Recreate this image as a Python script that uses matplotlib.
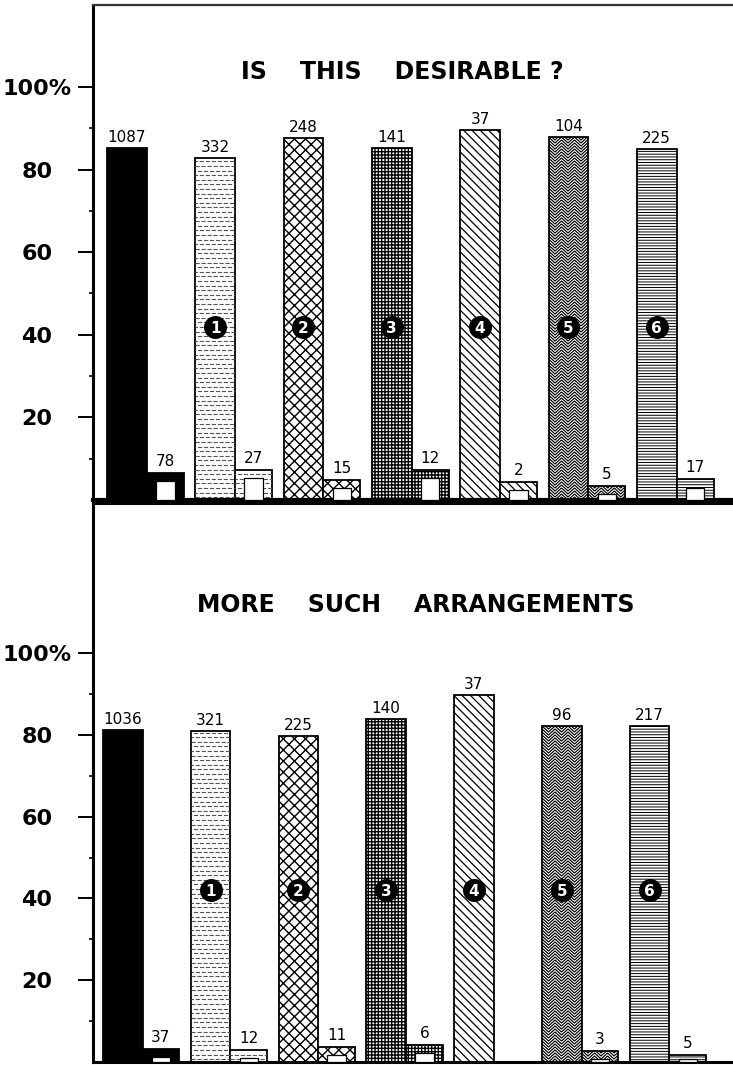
import numpy as np
import matplotlib
matplotlib.use('Agg')
import matplotlib.pyplot as plt
from matplotlib.collections import LineCollection

# ---------------- data ----------------
groups = ['All', '1', '2', '3', '4', '5', '6']
group_marks = ['', '1', '2', '3', '4', '5', '6']
patterns = ['solid', 'dash', 'cross', 'grid', 'diag', 'zigzag', 'hlines']

top_title = 'IS    THIS    DESIRABLE ?'
top_yes_pct = [85.2, 82.8, 87.7, 85.2, 89.6, 87.9, 85.0]
top_yes_n = [1087, 332, 248, 141, 37, 104, 225]
top_no_pct = [6.5, 7.3, 4.8, 7.3, 4.4, 3.4, 5.0]
top_no_n = [78, 27, 15, 12, 2, 5, 17]

bot_title = 'MORE    SUCH    ARRANGEMENTS'
bot_yes_pct = [81.2, 80.9, 79.7, 83.9, 89.7, 82.2, 82.2]
bot_yes_n = [1036, 321, 225, 140, 37, 96, 217]
bot_no_pct = [3.2, 2.9, 3.7, 4.2, 0.0, 2.7, 1.7]
bot_no_n = [37, 12, 11, 6, None, 3, 5]

ytick_vals = [20, 40, 60, 80, 100]
ytick_labels = ['20', '40', '60', '80', '100%']
yminor_vals = [10, 30, 50, 70, 90]

# ---------------- style ----------------
W, H, DPI = 7.33, 10.65, 100
BIG_W = 0.45
SMALL_W = 0.42
hatch_map = {'cross': 'xxx', 'grid': '+++++', 'diag': '\\\\\\\\', 'hlines': '------'}
hatch_lw = {'cross': 1.0, 'grid': 1.0, 'diag': 0.9, 'hlines': 0.7}

fig = plt.figure(figsize=(W, H), dpi=DPI)
fig.patch.set_facecolor('white')


def px_scale(ax):
    t = ax.transData
    p0 = t.transform((0, 0))
    p1 = t.transform((1, 1))
    return p1[0] - p0[0], p1[1] - p0[1]


def apply_pattern(ax, patch, pattern):
    x0, w, h = patch.get_x(), patch.get_width(), patch.get_height()
    if h <= 0:
        return
    sx, sy = px_scale(ax)
    if pattern == 'solid':
        patch.set_facecolor('black')
    elif pattern in hatch_map:
        patch.set_hatch(hatch_map[pattern])
        if hasattr(patch, 'set_hatch_linewidth'):
            patch.set_hatch_linewidth(hatch_lw[pattern])
    elif pattern == 'dash':
        step = 4.6 / sy
        ys = np.arange(step * 0.6, h, step)
        for k, y in enumerate(ys):
            ln, = ax.plot([x0, x0 + w], [y, y], color='#555555', lw=0.8,
                          linestyle=((k % 3) * 1.6, (3.8, 1.6)), zorder=2.5,
                          solid_capstyle='butt', dash_capstyle='butt')
            ln.set_clip_path(patch)
    elif pattern == 'zigzag':
        half = 6.5 / sx
        amp = 6.0 / sy
        step = 3.0 / sy
        segs = []
        xs = np.arange(x0 - half, x0 + w + 2 * half, half)
        for y0 in np.arange(-amp, h + amp, step):
            ys = y0 + amp * (np.arange(len(xs)) % 2)
            segs.append(np.column_stack([xs, ys]))
        lc = LineCollection(segs, colors='black', linewidths=0.85, zorder=2.5)
        ax.add_collection(lc)
        lc.set_clip_path(patch)


def draw_panel(ax, title, title_xy, yes_pct, yes_n, no_pct, no_n):
    x = np.arange(len(groups))
    big = ax.bar(x, yes_pct, width=BIG_W, align='edge', facecolor='white',
                 edgecolor='black', linewidth=1.3, zorder=2)
    small = ax.bar(x + BIG_W, no_pct, width=SMALL_W, align='edge', facecolor='white',
                   edgecolor='black', linewidth=1.3, zorder=2)
    for i, pat in enumerate(patterns):
        apply_pattern(ax, big[i], pat)
        if no_pct[i] > 0:
            apply_pattern(ax, small[i], pat)
    # inner white boxes of small bars
    inner_h = [max(v - 2.0, 0.7) if v > 0 else 0 for v in no_pct]
    ax.bar(x + BIG_W + SMALL_W / 2, inner_h, width=SMALL_W * 0.5, align='center',
           facecolor='white', edgecolor='black', linewidth=0.9, zorder=3)
    # value labels and group marks
    for i in range(len(groups)):
        ax.annotate(str(yes_n[i]), (x[i] + BIG_W / 2, yes_pct[i]), xytext=(0, 2),
                    textcoords='offset points', ha='center', va='bottom',
                    fontsize=11, zorder=5)
        if no_n[i] is not None:
            ax.annotate(str(no_n[i]), (x[i] + BIG_W + SMALL_W / 2, no_pct[i]),
                        xytext=(0, 3), textcoords='offset points', ha='center',
                        va='bottom', fontsize=11, zorder=5)
        if group_marks[i]:
            ax.plot(x[i] + BIG_W / 2, 42, 'o', ms=15.5, color='black', zorder=4)
            ax.text(x[i] + BIG_W / 2, 42, group_marks[i], color='white',
                    fontsize=11, fontweight='bold', ha='center',
                    va='center_baseline', zorder=5)
    ax.text(title_xy[0], title_xy[1], title, transform=ax.transAxes, fontsize=17,
            fontweight='bold', ha='center', va='center', zorder=5)

    # axes / ticks
    ax.set_yticks(ytick_vals)
    ax.set_yticklabels(ytick_labels, ha='center', fontsize=16, fontweight='bold')
    ax.set_yticks(yminor_vals, minor=True)
    ax.tick_params(axis='y', which='major', direction='out', length=11, width=1.4,
                   pad=29.3)
    ax.tick_params(axis='y', which='minor', direction='out', length=3, width=1.2)
    ax.set_xticks([])
    ax.spines['right'].set_visible(False)
    ax.spines['left'].set_linewidth(2.2)


# top panel
ax1 = fig.add_axes([93 / 733, 1 - 500 / 1065, 1 - 93 / 733, (500 - 5) / 1065])
ax1.set_xlim(-0.1585, 7.089)
ax1.set_ylim(0, 119.85)
draw_panel(ax1, top_title, (0.483, 1 - (72 - 5) / 495), top_yes_pct, top_yes_n,
           top_no_pct, top_no_n)
ax1.spines['top'].set_linewidth(1.6)
ax1.spines['top'].set_color('#333333')
ax1.spines['bottom'].set_linewidth(3.0)

# bottom panel
ax2 = fig.add_axes([93 / 733, 1 - 1062 / 1065, 1 - 93 / 733, (1062 - 503) / 1065])
ax2.set_xlim(-0.114, 7.175)
ax2.set_ylim(0, 136.7)
draw_panel(ax2, bot_title, (0.505, 1 - (605 - 503) / 559), bot_yes_pct, bot_yes_n,
           bot_no_pct, bot_no_n)
ax2.spines['top'].set_linewidth(2.2)
ax2.spines['bottom'].set_linewidth(2.2)

fig.savefig('out.png', dpi=DPI, facecolor='white')
